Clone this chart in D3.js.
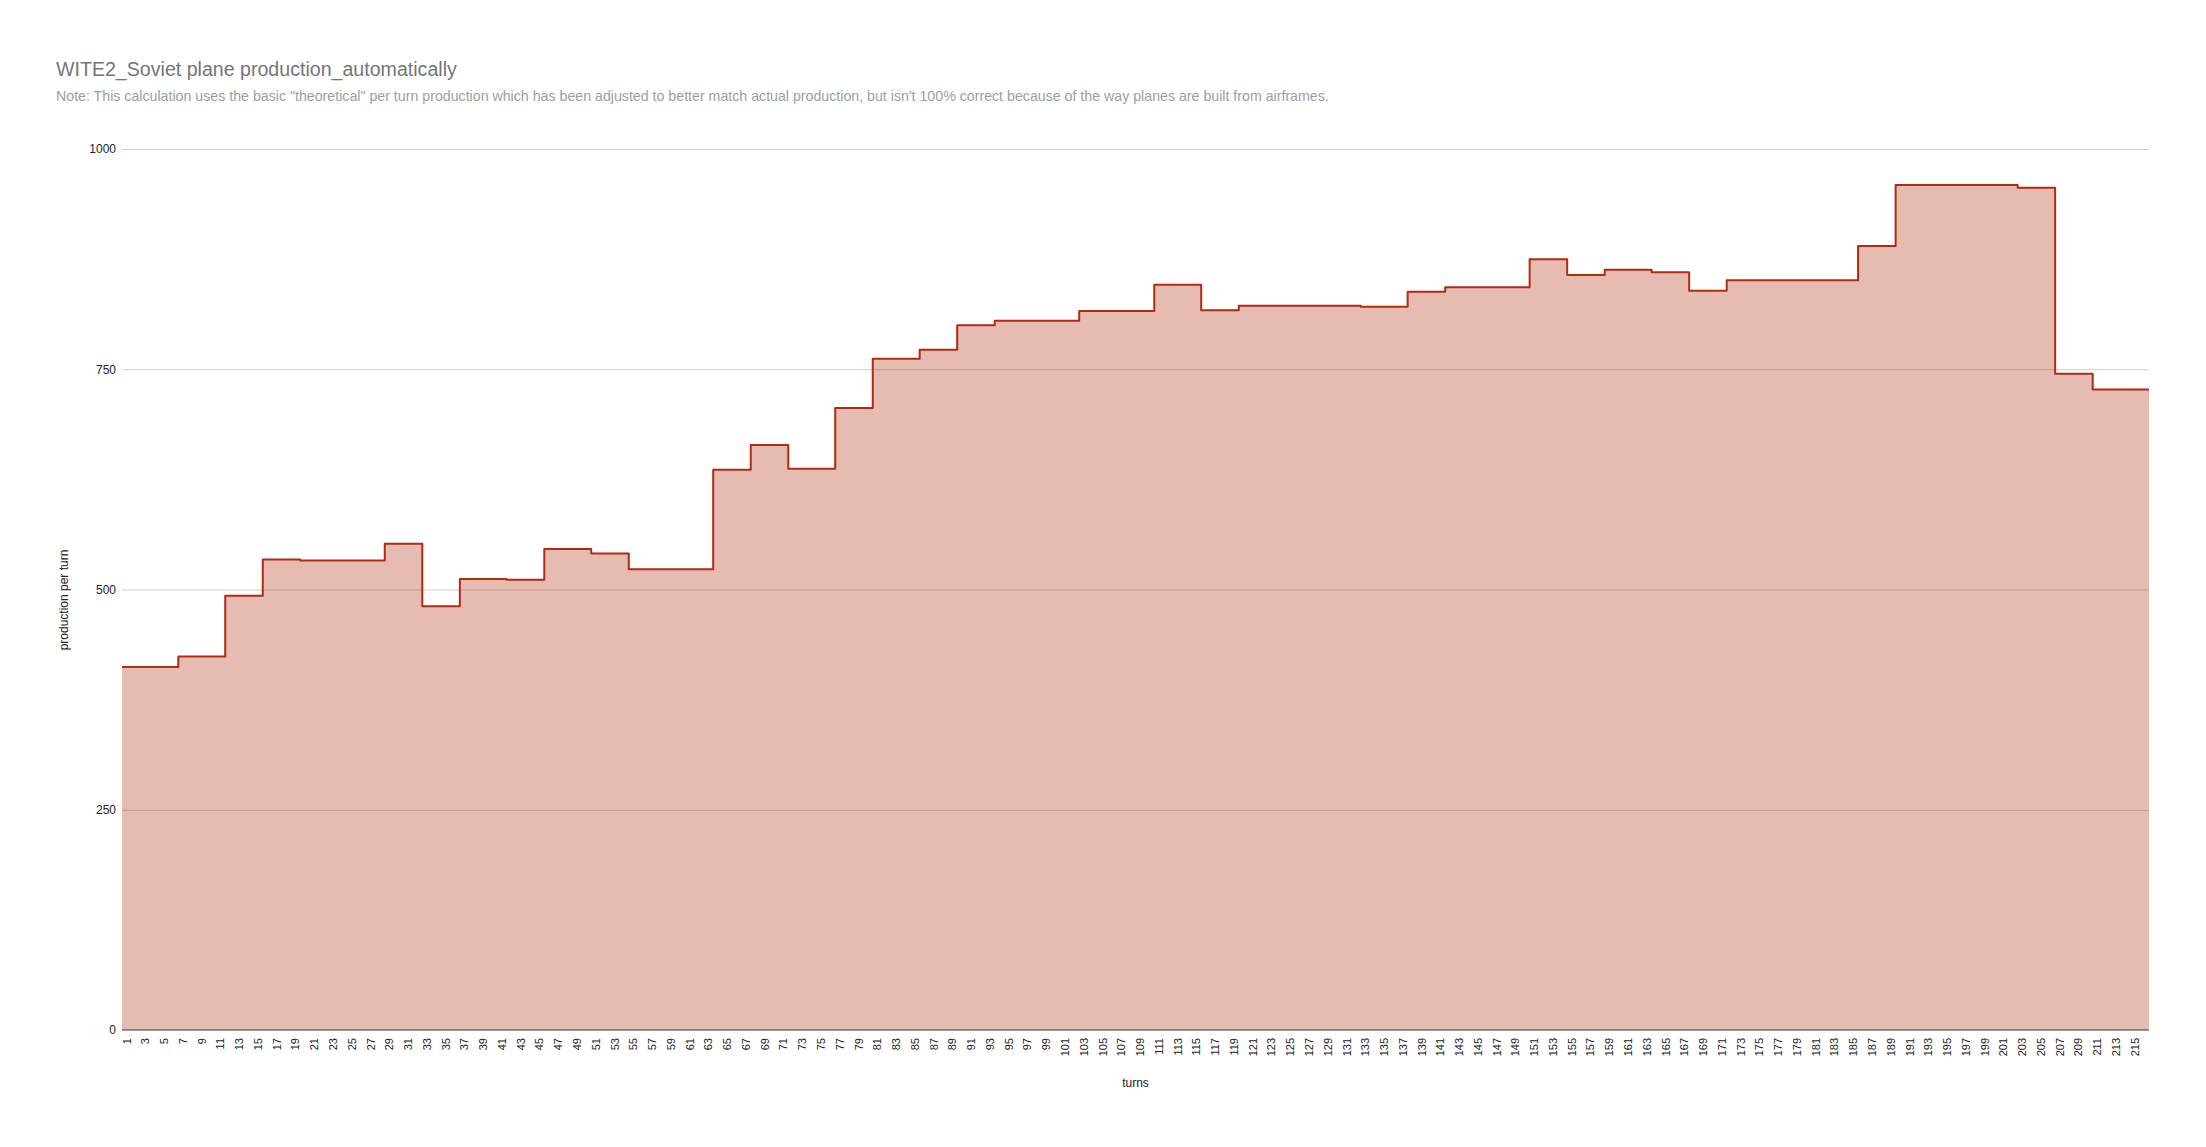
<!DOCTYPE html>
<html>
<head>
<meta charset="utf-8">
<script src="https://cdn.jsdelivr.net/npm/d3@7"></script>
<style>
  html, body { margin: 0; padding: 0; background: #fff; }
  svg { display: block; font-family: "Liberation Sans", Arial, sans-serif; }
</style>
</head>
<body>
<svg id="chart" width="2206" height="1147"></svg>
<script>
const chartTitle = "WITE2_Soviet plane production_automatically";
const chartSubtitle = "Note: This calculation uses the basic \"theoretical\" per turn production which has been adjusted to better match actual production, but isn't 100% correct because of the way planes are built from airframes.";
const xAxisTitle = "turns";
const yAxisTitle = "production per turn";

const turns = [
  1,2,3,4,5,6,7,8,9,10,11,12,13,14,15,16,17,18,19,20,
  21,22,23,24,25,26,27,28,29,30,31,32,33,34,35,36,37,38,39,40,
  41,42,43,44,45,46,47,48,49,50,51,52,53,54,55,56,57,58,59,60,
  61,62,63,64,65,66,67,68,69,70,71,72,73,74,75,76,77,78,79,80,
  81,82,83,84,85,86,87,88,89,90,91,92,93,94,95,96,97,98,99,100,
  101,102,103,104,105,106,107,108,109,110,111,112,113,114,115,116,117,118,119,120,
  121,122,123,124,125,126,127,128,129,130,131,132,133,134,135,136,137,138,139,140,
  141,142,143,144,145,146,147,148,149,150,151,152,153,154,155,156,157,158,159,160,
  161,162,163,164,165,166,167,168,169,170,171,172,173,174,175,176,177,178,179,180,
  181,182,183,184,185,186,187,188,189,190,191,192,193,194,195,196,197,198,199,200,
  201,202,203,204,205,206,207,208,209,210,211,212,213,214,215,216
];

const production = [
  412,412,412,412,412,412,
  424,424,424,424,424,
  493,493,493,493,
  534,534,534,534,
  533,533,533,533,533,533,533,533,533,
  552,552,552,552,
  481,481,481,481,
  512,512,512,512,512,
  511,511,511,511,
  546,546,546,546,546,
  541,541,541,541,
  523,523,523,523,523,523,523,523,523,
  636,636,636,636,
  664,664,664,664,
  637,637,637,637,637,
  706,706,706,706,
  762,762,762,762,762,
  772,772,772,772,
  800,800,800,800,
  805,805,805,805,805,805,805,805,805,
  816,816,816,816,816,816,816,816,
  846,846,846,846,846,
  817,817,817,817,
  822,822,822,822,822,822,822,822,822,822,822,822,822,
  821,821,821,821,821,
  838,838,838,838,
  843,843,843,843,843,843,843,843,843,
  875,875,875,875,
  857,857,857,857,
  863,863,863,863,863,
  860,860,860,860,
  839,839,839,839,
  851,851,851,851,851,851,851,851,851,851,851,851,851,851,
  890,890,890,890,
  959,959,959,959,959,959,959,959,959,959,959,959,959,
  956,956,956,956,
  745,745,745,745,
  727,727,727,727,727,727
];

const yTicks = [0, 250, 500, 750, 1000];
const xTickLabels = turns.filter(t => t % 2 === 1);

const svg = d3.select("#chart");
const W = 2206, H = 1147;
const plot = { left: 122, right: 2149, top: 149, bottom: 1030 };

svg.append("rect").attr("width", W).attr("height", H).attr("fill", "#ffffff");

const x = d3.scaleBand().domain(turns).range([plot.left, plot.right]).padding(0);
const y = d3.scaleLinear().domain([0, 1000]).range([plot.bottom, plot.top]);

// Title & subtitle
svg.append("text")
  .attr("x", 56).attr("y", 76)
  .attr("font-size", 19.6).attr("fill", "#757575")
  .text(chartTitle);
svg.append("text")
  .attr("x", 56).attr("y", 101)
  .attr("font-size", 14.2).attr("fill", "#9e9e9e")
  .text(chartSubtitle);

// Gridlines
const yAxis = d3.axisLeft(y).tickValues(yTicks).tickSize(-(plot.right - plot.left)).tickPadding(6).tickFormat(d3.format("d"));
const gy = svg.append("g").attr("transform", `translate(${plot.left},0)`).call(yAxis);
gy.select(".domain").remove();
gy.selectAll(".tick line").attr("stroke", "#cccccc").attr("stroke-width", 1);
gy.selectAll(".tick text").attr("font-size", 12).attr("fill", "#222222").attr("font-family", "Liberation Sans, Arial, sans-serif");
gy.selectAll(".tick").filter(d => d === 0).select("line").remove();

// Step area
const pts = turns.map((t, i) => ({ x: x(t), v: production[i] }));
pts.push({ x: x(turns[turns.length - 1]) + x.bandwidth(), v: production[production.length - 1] });

const area = d3.area()
  .x(d => d.x)
  .y0(y(0))
  .y1(d => y(d.v))
  .curve(d3.curveStepAfter);
const line = d3.line()
  .x(d => d.x)
  .y(d => y(d.v))
  .curve(d3.curveStepAfter);

svg.append("path").datum(pts)
  .attr("d", area)
  .attr("fill", "#b22a10")
  .attr("fill-opacity", 0.32);
svg.append("path").datum(pts)
  .attr("d", line)
  .attr("fill", "none")
  .attr("stroke", "#b22a10")
  .attr("stroke-width", 2)
  .attr("stroke-linejoin", "round");

// Baseline
svg.append("line")
  .attr("x1", plot.left).attr("x2", plot.right)
  .attr("y1", y(0)).attr("y2", y(0))
  .attr("stroke", "#333333").attr("stroke-width", 1);

// X tick labels
const gx = svg.append("g");
gx.selectAll("text").data(xTickLabels).join("text")
  .attr("transform", d => `translate(${x(d) + x.bandwidth() / 2},${plot.bottom + 8}) rotate(-90)`)
  .attr("text-anchor", "end")
  .attr("dy", "0.35em")
  .attr("font-size", 11)
  .attr("fill", "#222222")
  .text(d => d);

// Axis titles
svg.append("text")
  .attr("x", (plot.left + plot.right) / 2).attr("y", 1087)
  .attr("text-anchor", "middle")
  .attr("font-size", 12).attr("fill", "#222222")
  .text(xAxisTitle);
svg.append("text")
  .attr("transform", `translate(68,600) rotate(-90)`)
  .attr("text-anchor", "middle")
  .attr("font-size", 12).attr("fill", "#222222")
  .text(yAxisTitle);
</script>
</body>
</html>
